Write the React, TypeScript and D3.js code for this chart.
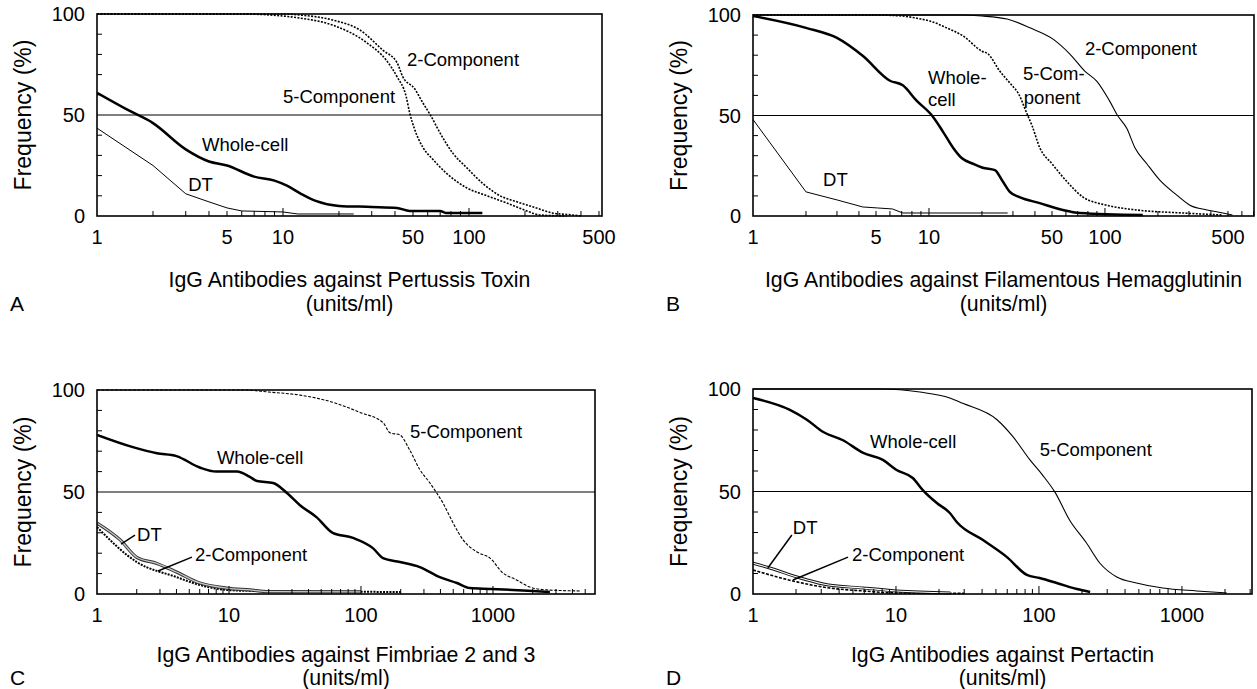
import React from 'react';
import * as d3 from 'd3';

type Pt = [number, number];

// ---------- data (x: units/ml, y: frequency %) ----------
const aWholeCell: Pt[] = [[1,61],[1.5,52],[2,46],[3,33],[4,27],[5,25],[7,19.5],[9,17.5],[10.5,15],[12.5,11],[15,7.5],[20,5],[30,4.5],[41,4],[48,2.5],[70,2.5],[75,1.5],[118,1.5]];
const aDT: Pt[] = [[1,43.5],[2,25],[3,11],[4,7],[5,4],[6,2.5],[10,2],[12,1],[24,1]];
const a5Comp: Pt[] = [[1,100],[6,100],[10,99],[12.3,98],[18.5,94.5],[28,86],[36,77],[41,69],[46,59],[48,51],[51,43],[56.5,34],[64,28],[76,21],[97,14],[125,10],[160,6.4],[205,2.5],[240,0.5],[335,0]];
const a2Comp: Pt[] = [[1,100],[10,100],[12.3,99.5],[18.5,97],[26,92],[34.5,82],[41,76],[44,69],[51,63],[56.5,56],[62,50],[70,41],[82,31],[97,24],[119,16],[147,10],[181,7],[230,4],[280,1.5],[360,0.5],[400,0]];

const bWholeCell: Pt[] = [[1,99.5],[2,93.6],[3,88.6],[4.2,79.7],[6,67.3],[7.1,65],[8.5,57.4],[10.4,50],[12,42],[13.7,34],[15.4,28.7],[17.8,26],[20.2,24],[23.7,22.8],[26,17.8],[28.8,12],[32.7,9.4],[42.6,6.4],[57.6,3],[72,1.5],[164,0.5]];
const bDT: Pt[] = [[1,48],[2,12],[3,8],[4.2,4.5],[5.1,4],[6.2,3.5],[7.1,1.5],[28,1.5]];
const b5Comp: Pt[] = [[1,100],[5,100],[7,99.5],[9,98],[10.1,97],[12.6,93.6],[15.6,89.6],[20,82],[21.6,80.7],[25.3,72],[29.6,65],[32,61.4],[36,51],[38.5,45],[42.6,34],[50,26],[61,17],[75,9.4],[102,5.4],[151,3],[277,1.5],[467,0.5]];
const b2Comp: Pt[] = [[1,100],[15,100],[20,99.5],[27.8,98],[37.5,93.6],[50.7,88],[63,80.7],[77,72],[90,67],[106,57.4],[118,50],[133,43.6],[148,34],[173,26],[205,17.8],[256,10.4],[304,5.4],[380,3],[467,1.5],[530,0.5]];

const cWholeCell: Pt[] = [[1,78],[1.87,72],[2.84,69],[4,67.6],[6,62],[8,60],[11.5,60],[14.4,57.4],[16.3,55.4],[21.6,54.4],[27.5,49.5],[34.5,43.5],[46,37.7],[61,30],[87,27.5],[123,22.5],[147,17.6],[197,15.7],[279,13.2],[395,8.3],[533,5.4],[670,2.9],[950,2.5],[2000,1.5],[2700,1]];
const cDT: Pt[] = [[1,34.8],[1.5,26.5],[2,18],[2.84,15],[4,10.8],[6,5.4],[9.6,2.9],[14.4,2],[20,1.2],[100,1]];
const c2Comp: Pt[] = [[1,32.8],[2,15.7],[4,8.3],[6,4.4],[9.6,2],[15,1.5],[200,1]];
const c5Comp: Pt[] = [[1,100],[13,100],[20,99],[34.5,97.5],[61,94],[98.5,89],[147,84],[166,79],[197,78],[234,70.6],[279,61],[333,54.4],[375,49.5],[418,44.6],[499,34.8],[594,26.5],[757,20.6],[950,17.6],[1190,10.3],[1510,6.9],[1900,3.4],[2560,2],[4550,1.5]];

const dWholeCell: Pt[] = [[1,95.6],[1.81,89.8],[2.38,85],[3.1,79],[4.26,75],[5.9,68.8],[8.1,65.4],[10.1,60.5],[13.1,56.6],[15.4,50.7],[19.3,44.4],[23.8,39.5],[26.7,35],[40.6,26.3],[59.7,18],[82.3,9.3],[101,7.8],[133,5.4],[184,2.4],[228,1]];
const dDT: Pt[] = [[1,15],[1.31,12.7],[2.03,8.3],[3.1,4.9],[5.9,2.9],[10.1,1.5],[24,0.5]];
const d2Comp: Pt[] = [[1,11.7],[2.03,5.9],[3.45,2.9],[5.9,1.5],[10,0.5],[30,0.3]];
const d5Comp: Pt[] = [[1,100],[8,100],[14.7,98.5],[23.8,95.6],[29.3,93],[50.9,85],[66,76.6],[86.5,65.4],[106,58],[129,49.8],[164,36],[215,24.9],[267,15],[350,8.3],[481,5.4],[734,2.9],[1270,1.5],[2060,0.5]];

const xTicksAB = [1, 5, 10, 50, 100, 500];
const xTicksCD = [1, 10, 100, 1000];
const yTicks = [0, 50, 100];

const titleA = 'IgG Antibodies against Pertussis Toxin';
const titleB = 'IgG Antibodies against Filamentous Hemagglutinin';
const titleC = 'IgG Antibodies against Fimbriae 2 and 3';
const titleD = 'IgG Antibodies against Pertactin';
const unitsLabel = '(units/ml)';
const yTitle = 'Frequency (%)';

// ---------- styles & layout ----------
type Style = { w: number; dash?: string; color?: string; smooth?: boolean; hollow?: { outer: string; inner: string; ow: number; iw: number } };
const thick: Style = { w: 2.5, smooth: true };
const thin: Style = { w: 1 };
const dotted: Style = { w: 1.6, dash: '2,1.4', smooth: true };
const dashedThin: Style = { w: 1.1, dash: '3,1.5', smooth: true };
const dashedMed: Style = { w: 1.6, dash: '3,1.5', smooth: true };
const thinJag: Style = { w: 1.1, smooth: true };
const hollowC: Style = { w: 3, smooth: true, hollow: { outer: '#333', inner: '#c8c8c8', ow: 3.2, iw: 1.3 } };
const hollowD: Style = { w: 3, smooth: true, hollow: { outer: '#111', inner: '#fff', ow: 3, iw: 1.1 } };

type Label = { text: string; x: number; y: number };
type Leader = [number, number, number, number];

const FONT = '"Liberation Sans", Arial, Helvetica, sans-serif';

const panels = [
  {
    letter: 'A', left: 97, right: 602, top: 14, bottom: 216, xMax: 519, xTicks: xTicksAB, title: titleA,
    yTitleX: 31, letterX: 10, t1: 287, t2: 311,
    series: [
      { data: aDT, style: thin }, { data: aWholeCell, style: thick },
      { data: a5Comp, style: dotted }, { data: a2Comp, style: dotted },
    ],
    labels: [
      { text: '2-Component', x: 46.4, y: 74.3 }, { text: '5-Component', x: 10, y: 55.9 },
      { text: 'Whole-cell', x: 3.67, y: 32.2 }, { text: 'DT', x: 3.09, y: 12.4 },
    ] as Label[],
    leaders: [] as Leader[],
  },
  {
    letter: 'B', left: 753, right: 1254, top: 15, bottom: 216, xMax: 703, xTicks: xTicksAB, title: titleB,
    yTitleX: 687, letterX: 666, t1: 287, t2: 311,
    series: [
      { data: bDT, style: thin }, { data: bWholeCell, style: thick },
      { data: b5Comp, style: dotted }, { data: b2Comp, style: thinJag },
    ],
    labels: [
      { text: '2-Component', x: 76.9, y: 80.2 }, { text: '5-Com-', x: 34.2, y: 67.8 },
      { text: 'ponent', x: 34.6, y: 55.9 }, { text: 'Whole-', x: 9.87, y: 65.8 },
      { text: 'cell', x: 9.87, y: 54.5 }, { text: 'DT', x: 2.5, y: 14.9 },
    ] as Label[],
    leaders: [] as Leader[],
  },
  {
    letter: 'C', left: 97, right: 595, top: 390, bottom: 594, xMax: 5930, xTicks: xTicksCD, title: titleC,
    yTitleX: 31, letterX: 10, t1: 662, t2: 685,
    series: [
      { data: c2Comp, style: { w: 2, dash: '2,1.2', smooth: true } as Style }, { data: cDT, style: hollowC },
      { data: cWholeCell, style: thick }, { data: c5Comp, style: dashedThin },
    ],
    labels: [
      { text: 'Whole-cell', x: 8.1, y: 63.7 }, { text: 'DT', x: 2.01, y: 26 },
      { text: '2-Component', x: 5.53, y: 16.2 }, { text: '5-Component', x: 235, y: 76.5 },
    ] as Label[],
    leaders: [[1.94, 28.9, 1.52, 24.5], [5.24, 18.1, 2.9, 11.3]] as Leader[],
  },
  {
    letter: 'D', left: 753, right: 1252, top: 389, bottom: 594, xMax: 3090, xTicks: xTicksCD, title: titleD,
    yTitleX: 687, letterX: 666, t1: 662, t2: 685,
    series: [
      { data: d2Comp, style: dashedMed }, { data: dDT, style: hollowD },
      { data: dWholeCell, style: thick }, { data: d5Comp, style: thinJag },
    ],
    labels: [
      { text: 'Whole-cell', x: 6.58, y: 71.2 }, { text: '5-Component', x: 101.2, y: 67.3 },
      { text: 'DT', x: 1.9, y: 29.3 }, { text: '2-Component', x: 4.93, y: 16.1 },
    ] as Label[],
    leaders: [[1.87, 28.8, 1.27, 12.7], [4.62, 18, 1.9, 6.8]] as Leader[],
  },
];

function Panel({ p }: { p: (typeof panels)[number] }) {
  const x = d3.scaleLog().domain([1, p.xMax]).range([p.left, p.right]);
  const y = d3.scaleLinear().domain([0, 100]).range([p.bottom, p.top]);
  const lineLin = d3.line<Pt>().x((d) => x(d[0])).y((d) => y(d[1]));
  const lineSm = d3.line<Pt>().x((d) => x(d[0])).y((d) => y(d[1])).curve(d3.curveMonotoneX);

  const minor: { v: number; major: boolean }[] = [];
  for (let dec = 1; dec < p.xMax; dec *= 10) {
    for (let k = 1; k <= 9; k++) {
      const v = k * dec;
      if (v > 1 && v < p.xMax) minor.push({ v, major: k === 1 });
    }
  }
  const yMinor = d3.range(10, 100, 10).filter((v) => v !== 50);
  const cx = (p.left + p.right) / 2;
  const cy = (p.top + p.bottom) / 2;

  return (
    <g>
      <defs>
        <clipPath id={`clip${p.letter}`}>
          <rect x={p.left} y={p.top - 2} width={p.right - p.left} height={p.bottom - p.top + 3} />
        </clipPath>
      </defs>
      {/* 50% reference line */}
      <line x1={p.left} x2={p.right} y1={y(50)} y2={y(50)} stroke="#000" strokeWidth={1.1} />
      {/* series */}
      <g clipPath={`url(#clip${p.letter})`}>
        {p.series.map((s, i) => {
          const d = (s.style.smooth ? lineSm : lineLin)(s.data) || '';
          return s.style.hollow ? (
            <g key={i}>
              <path d={d} fill="none" stroke={s.style.hollow.outer} strokeWidth={s.style.hollow.ow} strokeLinejoin="round" />
              <path d={d} fill="none" stroke={s.style.hollow.inner} strokeWidth={s.style.hollow.iw} strokeLinejoin="round" />
            </g>
          ) : (
            <path key={i} d={d} fill="none" stroke={s.style.color || '#000'} strokeWidth={s.style.w}
              strokeDasharray={s.style.dash} strokeLinejoin="round" />
          );
        })}
      </g>
      {/* frame */}
      <rect x={p.left} y={p.top} width={p.right - p.left} height={p.bottom - p.top} fill="none" stroke="#000" strokeWidth={1.6} />
      {/* ticks */}
      {minor.map((t) => (
        <line key={t.v} x1={x(t.v)} x2={x(t.v)} y1={p.bottom} y2={p.bottom - (t.major ? 8 : 5)} stroke="#000" strokeWidth={1} />
      ))}
      {yMinor.map((v) => (
        <line key={v} x1={p.left} x2={p.left + 5} y1={y(v)} y2={y(v)} stroke="#000" strokeWidth={1} />
      ))}
      {/* tick labels */}
      {p.xTicks.map((v) => (
        <text key={v} x={x(v)} y={p.bottom + 28} textAnchor="middle" fontSize={20} fontFamily={FONT}>{v}</text>
      ))}
      {yTicks.map((v) => (
        <text key={v} x={p.left - 12} y={y(v)} dy="0.36em" textAnchor="end" fontSize={20} fontFamily={FONT}>{v}</text>
      ))}
      {/* axis titles */}
      <text transform={`translate(${p.yTitleX},${cy}) rotate(-90)`} textAnchor="middle" fontSize={23} fontFamily={FONT}>{yTitle}</text>
      <text x={cx} y={p.t1} textAnchor="middle" fontSize={21.3} fontFamily={FONT}>{p.title}</text>
      <text x={cx} y={p.t2} textAnchor="middle" fontSize={21.3} fontFamily={FONT}>{unitsLabel}</text>
      <text x={p.letterX} y={p.t2} fontSize={21} fontFamily={FONT}>{p.letter}</text>
      {/* curve labels */}
      {p.labels.map((l, i) => (
        <text key={i} x={x(l.x)} y={y(l.y)} fontSize={18.5} fontFamily={FONT}>{l.text}</text>
      ))}
      {p.leaders.map((l, i) => (
        <line key={i} x1={x(l[0])} y1={y(l[1])} x2={x(l[2])} y2={y(l[3])} stroke="#000" strokeWidth={1.5} />
      ))}
    </g>
  );
}

export default function App() {
  return (
    <svg width={1257} height={689} viewBox="0 0 1257 689" style={{ position: 'absolute', left: 0, top: 0, background: '#fff' }}>
      <rect width={1257} height={689} fill="#fff" />
      {panels.map((p) => (
        <Panel key={p.letter} p={p} />
      ))}
    </svg>
  );
}
